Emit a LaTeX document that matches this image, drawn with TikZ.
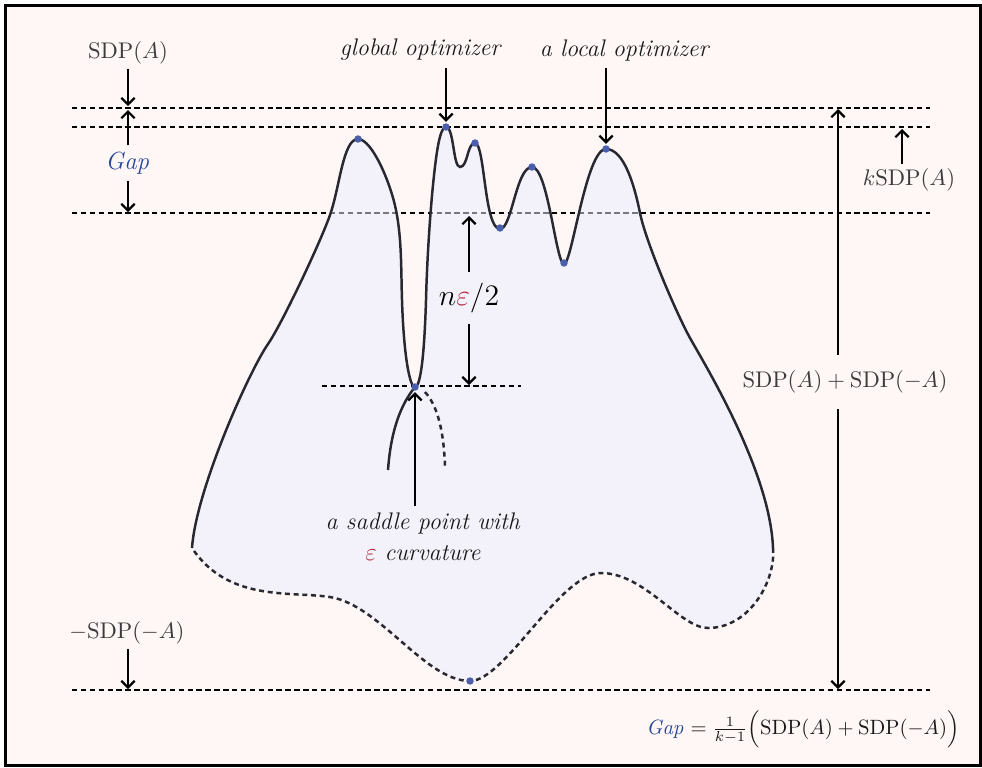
\documentclass[tikz,border=0pt]{standalone}
\usetikzlibrary{arrows.meta}
\definecolor{bgc}{RGB}{255,246,246}
\definecolor{fillc}{RGB}{233,240,254}
\definecolor{curvc}{RGB}{40,40,48}
\definecolor{dotc}{RGB}{75,94,171}
\definecolor{gapc}{RGB}{40,72,150}
\definecolor{epsc}{RGB}{178,40,58}
\definecolor{lblc}{RGB}{60,60,60}
\begin{document}
\begin{tikzpicture}[x=0.017cm,y=-0.017cm,
 hline/.style={line width=1.3pt,dash pattern=on 2.6pt off 1.7pt,draw=black},
 curve/.style={line width=1.2pt,draw=curvc},
 arr/.style={line width=1.1pt,draw=black,-{Straight Barb[length=3.2pt,width=6.4pt]}},
 lbl/.style={text=lblc,inner sep=2pt,font=\fontsize{11.2}{13}\selectfont},
 ital/.style={text=black!90,font=\fontsize{11.6}{14}\selectfont},
 dot/.style={fill=dotc}]
\useasboundingbox (0,0) rectangle (982,767);
\draw[line width=1.5pt,fill=bgc] (5.5,5.5) rectangle (980.5,765.5);

% coordinates
\coordinate (a1) at (72,108);  \coordinate (b1) at (930,108);
\coordinate (a2) at (72,127);  \coordinate (b2) at (930,127);
\coordinate (a3) at (72,213);  \coordinate (b3) at (930,213);
\coordinate (a4) at (72,690);  \coordinate (b4) at (930,690);
\coordinate (s1) at (322,386); \coordinate (s2) at (521,386);

% end points of the landscape outline
\coordinate (P0) at (192,548);
\coordinate (P16) at (773,548);

% dashed level lying under the translucent fill
\draw[hline] (a3) -- (b3);

% filled landscape
\fill[fillc,fill opacity=0.5]
  (P0) .. controls (196,490) and (248.7,372) .. (268,344)
  .. controls (282.2,323.4) and (320.8,241.4) .. (330,215)
  .. controls (339.9,186.7) and (343,139) .. (358,139)
  .. controls (372,139) and (390.5,182.6) .. (396,210)
  .. controls (401.9,239.4) and (401,270) .. (402,300)
  .. controls (403.5,350) and (409,387) .. (415,387)
  .. controls (421,387) and (424.5,350) .. (426,300)
  .. controls (427,260) and (430,215) .. (433,185)
  .. controls (436.5,150) and (440,127) .. (446,127)
  .. controls (454,127) and (453,167) .. (460,167)
  .. controls (468,167) and (467,143) .. (475,143)
  .. controls (485,143) and (484,229) .. (500,229)
  .. controls (512,229) and (516,167) .. (532,167)
  .. controls (548,167) and (556,264) .. (564,264)
  .. controls (572,264) and (586,149) .. (606,149)
  .. controls (624,149) and (634.5,185.6) .. (640,213)
  .. controls (645.9,242.4) and (676.5,313.5) .. (690,338)
  .. controls (703.5,362.5) and (770,470) .. (P16)
  .. controls (776,580) and (750,628) .. (708,628)
  .. controls (680,628) and (645,573) .. (601,573)
  .. controls (560,573) and (505,681) .. (470,681)
  .. controls (425,681) and (380,605) .. (330,597)
  .. controls (290,591) and (228,602) .. (P0) -- cycle;

% solid outline
\draw[curve]
  (P0) .. controls (196,490) and (248.7,372) .. (268,344)
  .. controls (282.2,323.4) and (320.8,241.4) .. (330,215)
  .. controls (339.9,186.7) and (343,139) .. (358,139)
  .. controls (372,139) and (390.5,182.6) .. (396,210)
  .. controls (401.9,239.4) and (401,270) .. (402,300)
  .. controls (403.5,350) and (409,387) .. (415,387)
  .. controls (421,387) and (424.5,350) .. (426,300)
  .. controls (427,260) and (430,215) .. (433,185)
  .. controls (436.5,150) and (440,127) .. (446,127)
  .. controls (454,127) and (453,167) .. (460,167)
  .. controls (468,167) and (467,143) .. (475,143)
  .. controls (485,143) and (484,229) .. (500,229)
  .. controls (512,229) and (516,167) .. (532,167)
  .. controls (548,167) and (556,264) .. (564,264)
  .. controls (572,264) and (586,149) .. (606,149)
  .. controls (624,149) and (634.5,185.6) .. (640,213)
  .. controls (645.9,242.4) and (676.5,313.5) .. (690,338)
  .. controls (703.5,362.5) and (770,470) .. (P16);
% dashed lower outline
\draw[curve,dash pattern=on 2.4pt off 1.8pt]
  (P16) .. controls (776,580) and (750,628) .. (708,628)
  .. controls (680,628) and (645,573) .. (601,573)
  .. controls (560,573) and (505,681) .. (470,681)
  .. controls (425,681) and (380,605) .. (330,597)
  .. controls (290,591) and (228,602) .. (P0);

% other dashed levels
\draw[hline] (a1) -- (b1);
\draw[hline] (a2) -- (b2);
\draw[hline] (a4) -- (b4);
\draw[hline] (s1) -- (s2);

% critical points
\coordinate (gpk) at (446,127);
\coordinate (lpk) at (606,149);
\coordinate (sp) at (415,387);
\coordinate (bot) at (470,681);

% saddle branches
\draw[curve] (sp) .. controls (402,403) and (391,428) .. (388,470);
\draw[curve,dash pattern=on 2.4pt off 2pt] (425,392) .. controls (437,405) and (444,430) .. (445,468);

% left labels
\node[lbl] (sdpA) at (128,53) {$\mathrm{SDP}(A)$};
\coordinate (tA) at (128,106);
\draw[arr] (sdpA.south) -- (tA);
\node[text=gapc,font=\fontsize{11.6}{14}\selectfont] (gap) at (128,163) {$\mathit{Gap}$};
\coordinate (tG1) at (128,110);
\coordinate (tG2) at (128,212);
\draw[arr] (gap.north) -- (tG1);
\draw[arr] (gap.south) -- (tG2);
\node[lbl] (msdp) at (127,633) {$-\mathrm{SDP}(-A)$};
\coordinate (tM) at (128,689);
\draw[arr] (msdp.south -| tM) -- (tM);

% top labels
\node[ital] (glob) at (421,50) {\textit{global optimizer}};
\draw[arr,shorten >=2.5pt] (glob.south -| gpk) -- (gpk);
\node[ital] (loc) at (625,50) {\textit{a local optimizer}};
\draw[arr,shorten >=2.5pt] (loc.south -| lpk) -- (lpk);

% n eps / 2
\node[inner ysep=5pt] (neps) at (469,298) {\fontsize{14.3}{16}\selectfont $n{\color{epsc}\varepsilon}/2$};
\coordinate (tN1) at (469,216);
\coordinate (tN2) at (469,385);
\draw[arr] (neps.north) -- (tN1);
\draw[arr] (neps.south) -- (tN2);

% saddle label
\node[ital,align=center] (sad) at (423,537) {\textit{a saddle point with}\\[1pt]{\color{epsc}$\varepsilon$}\ \textit{curvature}};
\draw[arr,shorten >=2.5pt] (sad.north -| sp) -- (sp);

% right labels
\node[lbl,inner ysep=7.5pt] (sum) at (845,382) {$\mathrm{SDP}(A)+\mathrm{SDP}(-A)$};
\coordinate (rt) at (838,109);
\coordinate (rb) at (838,689);
\draw[arr] (sum.north -| rt) -- (rt);
\draw[arr] (sum.south -| rt) -- (rb);
\node[lbl] (ksdp) at (909,180) {$k\mathrm{SDP}(A)$};
\coordinate (kt) at (902,129);
\draw[arr] (ksdp.north -| kt) -- (kt);

% formula
\node[text=black!90] (form) at (803,729) {$\textcolor{gapc}{\mathit{Gap}} = \frac{1}{k-1}\Big(\mathrm{SDP}(A)+\mathrm{SDP}(-A)\Big)$};

% dots
\foreach \p in {(358,139),(446,127),(475,143),(532,167),(500,228),(564,263),(606,149),(415,387),(470,681)}
  \fill[dot] \p circle (1.8pt);
\end{tikzpicture}
\end{document}
